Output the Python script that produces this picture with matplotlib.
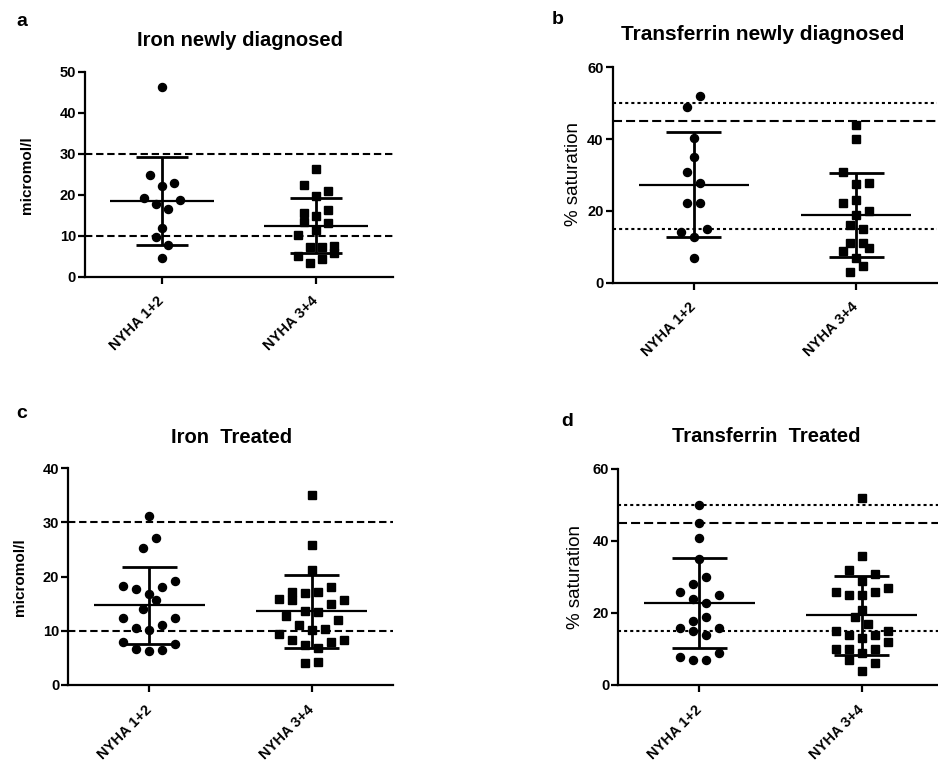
import numpy as np
import matplotlib
matplotlib.use("Agg")
import matplotlib.pyplot as plt

plt.rcParams['font.family'] = ['Liberation Sans', 'DejaVu Sans']
plt.rcParams['lines.scale_dashes'] = False

W, H = 938, 762

groups = ["NYHA 1+2", "NYHA 3+4"]

# ---------------- data ----------------
# a: Iron newly diagnosed (micromol/l)
iron_new_12 = [46.3, 24.8, 22.1, 22.9, 19.3, 18.7, 17.7, 16.4, 12.0, 9.8, 7.7, 4.6]
iron_new_34 = [26.3, 22.4, 21.0, 19.6, 16.2, 15.5, 13.4, 14.9, 13.2, 11.3,
               10.1, 7.3, 7.2, 7.6, 5.8, 5.1, 4.3, 3.3]
# b: Transferrin newly diagnosed (% saturation)
tf_new_12 = [52.0, 49.0, 40.2, 35.1, 30.7, 27.9, 22.1, 22.1, 15.0, 14.2, 12.8, 6.8]
tf_new_34 = [43.9, 39.9, 30.9, 27.5, 27.9, 23.0, 22.1, 20.1, 18.9, 16.1,
             14.9, 11.1, 11.1, 9.8, 8.9, 6.8, 4.7, 2.9]
# c: Iron treated (micromol/l)
iron_trt_12 = [31.2, 27.1, 25.2, 18.3, 17.7, 18.1, 19.2, 16.8, 15.7, 14.1,
               12.3, 12.3, 11.1, 10.5, 10.1, 8.0, 7.6, 6.6, 6.3, 6.5]
iron_trt_34 = [35.1, 25.8, 21.3, 18.0, 17.2, 16.9, 17.2, 15.9, 15.6, 14.9,
               15.6, 13.7, 13.4, 12.7, 12.0, 11.1, 10.1, 10.3, 9.4, 8.3,
               7.9, 8.3, 7.4, 6.9, 4.1, 4.3]
# d: Transferrin treated (% saturation)
tf_trt_12 = [49.9, 44.9, 40.9, 34.9, 30.0, 28.0, 25.9, 25.0, 23.9, 22.9,
             19.0, 17.9, 15.9, 15.9, 14.9, 13.9, 9.0, 7.9, 6.9, 6.9]
tf_trt_34 = [51.9, 35.8, 31.9, 30.8, 29.0, 25.8, 25.0, 25.0, 25.8, 26.9,
             20.7, 18.8, 16.9, 14.9, 14.9, 13.9, 13.9, 13.0, 11.9, 9.9,
             9.9, 9.9, 9.0, 6.9, 6.0, 4.0]

# scatter column slots (jitter layout, in slot units)
iron_new_12_slot = [0, -2, 0, 2, -3, 3, -1, 1, 0, -1, 1, 0]
iron_new_34_slot = [0, -2, 2, 0, 2, -2, -2, 0, 2, 0, -3, -1, 1, 3, 3, -3, 1, -1]
tf_new_12_slot = [1, -1, 0, 0, -1, 1, -1, 1, 2, -2, 0, 0]
tf_new_34_slot = [0, 0, -2, 0, 2, 0, -2, 2, 0, -1, 1, -1, 1, 2, -2, 0, 1, -1]
iron_trt_12_slot = [0, 1, -1, -4, -2, 2, 4, 0, 1, -1, -4, 4, 2, -2, 0, -4, 4, -2, 0, 2]
iron_trt_34_slot = [0, 0, 0, 3, -3, -1, 1, -5, -3, 3, 5, -1, 1, -4, 4, -2, 0, 2,
                    -5, -3, 3, 5, -1, 1, -1, 1]
tf_trt_12_slot = [0, 0, 0, 0, 1, -1, -3, 3, -1, 1, 1, -1, -3, 3, -1, 1, 3, -3, -1, 1]
tf_trt_34_slot = [0, 0, -2, 2, 0, -4, -2, 0, 2, 4, 0, -1, 1, -4, 4, -2, 2, 0, 4,
                  -4, -2, 2, 0, -2, 2, 0]

SLOT = 0.04

fig = plt.figure(figsize=(W / 100, H / 100), dpi=100)


def px_rect(left, top, right, bottom):
    return [left / W, 1 - bottom / H, (right - left) / W, (bottom - top) / H]


def panel(rect, ymax, yticks, d12, s12, d34, s34, refs):
    ax = fig.add_axes(px_rect(*rect))
    ax.set_xlim(-0.5, 1.5)
    ax.set_ylim(0, ymax)
    for side in ('top', 'right'):
        ax.spines[side].set_visible(False)
    for side in ('left', 'bottom'):
        ax.spines[side].set_linewidth(1.6)
    for y, dash in refs:
        ax.axhline(y, color='black', lw=1.5, dashes=dash, zorder=1)
    for i, (vals, slots, mk, ms) in enumerate([(d12, s12, 'o', 5.8), (d34, s34, 's', 5.3)]):
        vals = np.asarray(vals, float)
        xs = i + np.asarray(slots, float) * SLOT
        ax.plot(xs, vals, mk, ms=ms, color='black', mec='black', clip_on=False, zorder=3)
        m = vals.mean()
        sd = vals.std(ddof=1)
        ax.plot([i - 0.34, i + 0.34], [m, m], color='black', lw=1.6, zorder=4,
                solid_capstyle='butt')
        ax.plot([i, i], [m - sd, m + sd], color='black', lw=2.0, zorder=4,
                solid_capstyle='butt')
        for v in (m - sd, m + sd):
            ax.plot([i - 0.17, i + 0.17], [v, v], color='black', lw=2.0, zorder=4,
                    solid_capstyle='butt')
    ax.set_yticks(yticks)
    ax.set_xticks([0, 1])
    ax.set_xticklabels(groups, rotation=45, ha='right', va='center',
                       rotation_mode='anchor')
    ax.tick_params(axis='both', direction='out', length=5, width=1.6,
                   labelsize=10.5, colors='black')
    ax.tick_params(axis='x', pad=11)
    ax.tick_params(axis='y', pad=1.5)
    for lab in ax.get_xticklabels() + ax.get_yticklabels():
        lab.set_fontweight('bold')
    return ax


dash_long = (5.3, 2.7)
dot = (2.2, 2.2)
dash_b = (6.5, 2.9)

panel((85, 71.7, 393, 276.7), 50, [0, 10, 20, 30, 40, 50],
      iron_new_12, iron_new_12_slot, iron_new_34, iron_new_34_slot,
      [(10, dash_long), (30, dash_long)])
panel((612.7, 67.3, 937.3, 282.7), 60, [0, 20, 40, 60],
      tf_new_12, tf_new_12_slot, tf_new_34, tf_new_34_slot,
      [(15, dot), (50, dot), (45, dash_b)])
panel((68.3, 468.3, 392.7, 685), 40, [0, 10, 20, 30, 40],
      iron_trt_12, iron_trt_12_slot, iron_trt_34, iron_trt_34_slot,
      [(10, dash_long), (30, dash_long)])
panel((618.3, 469, 942.7, 685), 60, [0, 20, 40, 60],
      tf_trt_12, tf_trt_12_slot, tf_trt_34, tf_trt_34_slot,
      [(15, dot), (50, dot), (45, dash_b)])


def ftext(x, y, s, **kw):
    fig.text(x / W, 1 - y / H, s, ha='center', va='center', color='black', **kw)


# panel letters
ftext(22, 22, 'a', fontsize=14, fontweight='bold')
ftext(558, 20, 'b', fontsize=14, fontweight='bold')
ftext(22, 413, 'c', fontsize=14, fontweight='bold')
ftext(567, 421, 'd', fontsize=14, fontweight='bold')

# titles
ftext(239.5, 40, 'Iron newly diagnosed', fontsize=14.5, fontweight='bold')
ftext(763, 35, 'Transferrin newly diagnosed', fontsize=15, fontweight='bold')
ftext(232, 437, 'Iron  Treated', fontsize=14.5, fontweight='bold')
ftext(766, 436, 'Transferrin  Treated', fontsize=14.5, fontweight='bold')

# y labels
ftext(27.5, 175, 'micromol/l', fontsize=11, fontweight='bold', rotation=90)
ftext(20, 577, 'micromol/l', fontsize=11, fontweight='bold', rotation=90)
ftext(573.3, 174, '% saturation', fontsize=13.5, rotation=90)
ftext(575.7, 577, '% saturation', fontsize=13.5, rotation=90)

fig.savefig('out.png', dpi=100)
